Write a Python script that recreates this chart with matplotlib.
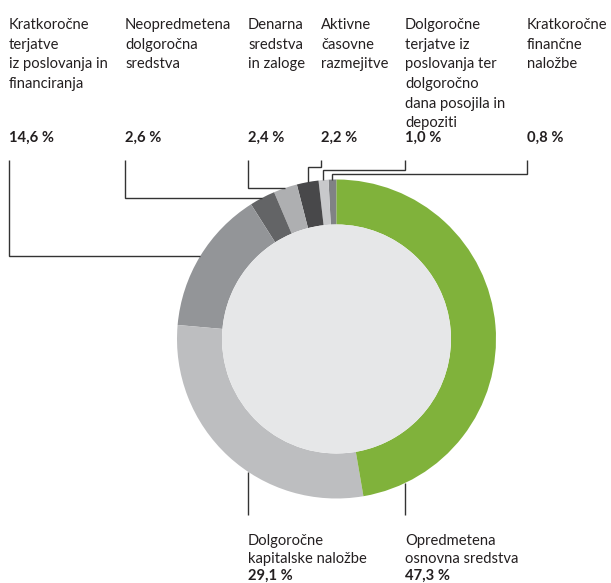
import matplotlib
matplotlib.use('Agg')
import matplotlib.pyplot as plt
from matplotlib.patches import Circle
import numpy as np

plt.rcParams['font.family'] = ['Lato', 'DejaVu Sans']

W, H = 611, 583

# ---- data (counter-clockwise from the top) ----
categories = [
    "Kratkoročne\nfinančne\nnaložbe",
    "Dolgoročne\nterjatve iz\nposlovanja ter\ndolgoročno\ndana posojila in\ndepoziti",
    "Aktivne\ncasovne\nrazmejitve".replace("casovne", "časovne"),
    "Denarna\nsredstva\nin zaloge",
    "Neopredmetena\ndolgoročna\nsredstva",
    "Kratkoročne\nterjatve\niz poslovanja in\nfinanciranja",
    "Dolgoročne\nkapitalske naložbe",
    "Opredmetena\nosnovna sredstva",
]
values = [0.8, 1.0, 2.2, 2.4, 2.6, 14.6, 29.1, 47.3]
colors = ["#808285", "#c8c9cb", "#48484a", "#aeafb1", "#636466",
          "#939598", "#bdbec0", "#80b23b"]

# ---- layout (pixels from top-left) ----
cx, cy, R, RW = 336.5, 339.0, 159.5, 45.0
label_x = [527, 405, 321, 248, 125, 9, 248, 405]
label_pos = ["top", "top", "top", "top", "top", "top", "bottom", "bottom"]
elbow_y = [174, 169.5, 167, None, None, None, None, None]
TOP_BASE, TOP_SP, TOP_PCT, TOP_LINE = 29.0, 19.7, 141.5, 160.0
BOT_BASE, BOT_SP, BOT_LINE = 545.0, 18.0, 515.0
text_color = "#231f20"
line_color = "#333333"
FS = 10.6


def Y(py):
    return H - py


fig = plt.figure(figsize=(W / 100, H / 100), dpi=100)
ax = fig.add_axes([0, 0, 1, 1])
wedges, _ = ax.pie(values, colors=colors, startangle=90, counterclock=True,
                   radius=R, center=(cx, Y(cy)),
                   wedgeprops=dict(width=RW, edgecolor='none', linewidth=0))
ax.add_patch(Circle((cx, Y(cy)), R - RW, facecolor="#e6e7e8", edgecolor='none', zorder=3))

for i, (cat, v) in enumerate(zip(categories, values)):
    lx = label_x[i]
    pct = f"{v:.1f}".replace('.', ',') + " %"
    lines = cat.split("\n")
    if label_pos[i] == "top":
        for j, ln in enumerate(lines):
            ax.text(lx, Y(TOP_BASE + j * TOP_SP), ln, fontsize=FS, color=text_color,
                    ha='left', va='baseline')
        ax.text(lx, Y(TOP_PCT), pct, fontsize=FS, color=text_color, fontweight='bold',
                ha='left', va='baseline')
        w = wedges[i]
        mid = np.deg2rad((w.theta1 + w.theta2) / 2)
        ax_ = cx + R * np.cos(mid)
        ay_ = cy - R * np.sin(mid)
        ey = elbow_y[i] if elbow_y[i] is not None else ay_
        xs = [lx, lx, ax_, ax_]
        ys = [TOP_LINE, ey, ey, ay_]
        ax.plot(xs, [Y(y) for y in ys], color=line_color, lw=1.0,
                solid_joinstyle='miter', solid_capstyle='butt', zorder=4)
    else:
        for j, ln in enumerate(lines):
            ax.text(lx, Y(BOT_BASE + j * BOT_SP), ln, fontsize=FS, color=text_color,
                    ha='left', va='baseline')
        ax.text(lx, Y(BOT_BASE + len(lines) * BOT_SP - 1), pct, fontsize=FS,
                color=text_color, fontweight='bold', ha='left', va='baseline')
        ry = cy + np.sqrt(R ** 2 - (lx - cx) ** 2)
        ax.plot([lx, lx], [Y(ry), Y(BOT_LINE)], color=line_color, lw=1.0,
                solid_capstyle='butt', zorder=4)

ax.set_xlim(0, W)
ax.set_ylim(0, H)
ax.set_aspect('auto')
ax.axis('off')
fig.savefig("out.png", dpi=100, facecolor='white')
